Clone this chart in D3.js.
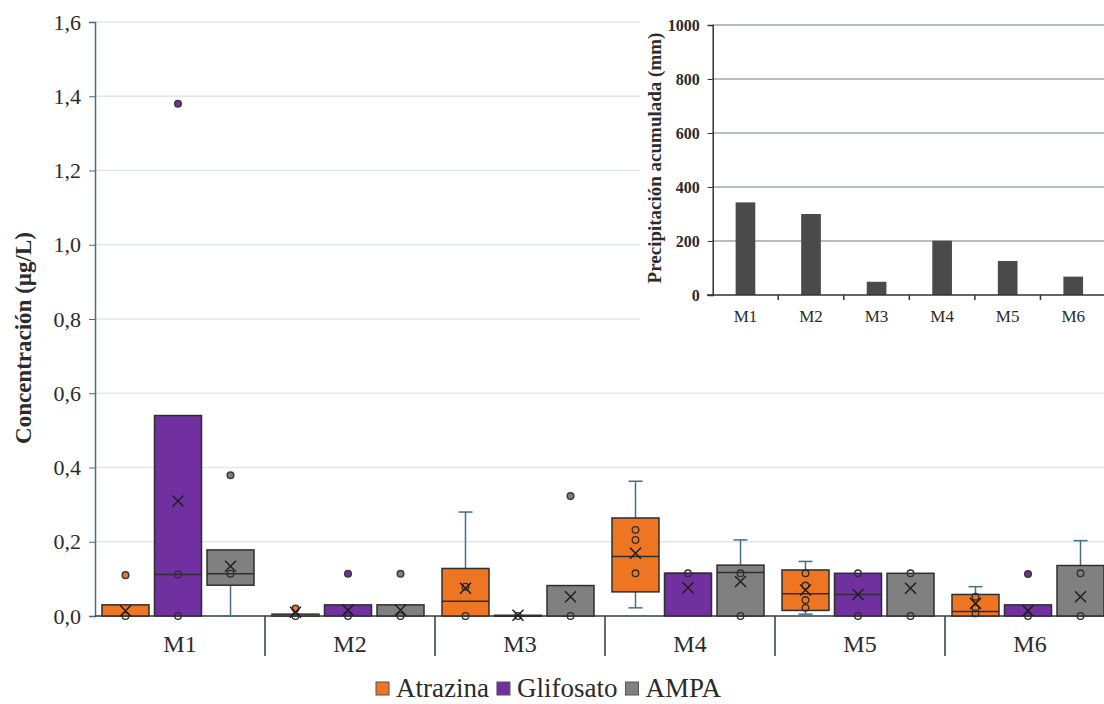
<!DOCTYPE html>
<html>
<head>
<meta charset="utf-8">
<script src="https://cdn.jsdelivr.net/npm/d3@7"></script>
<style>
  body { margin: 0; background: #fff; }
  svg { display: block; }
  text { font-family: "Liberation Serif", "DejaVu Serif", serif; fill: #2b2b2b; }
</style>
</head>
<body>
<svg id="chart" width="1104" height="704"></svg>
<script>
// --- datos ---
var categorias = ["M1", "M2", "M3", "M4", "M5", "M6"];
var series = ["Atrazina", "Glifosato", "AMPA"];
var colores = ["#ee7623", "#7030a0", "#808080"];

// box stats per muestreo: [min, q1, mediana, q3, max, media]
var atrazina = [
  [0, 0, 0, 0.03, 0.03, 0.014],
  [0, 0, 0, 0.005, 0.005, 0.01],
  [0, 0, 0.04, 0.128, 0.28, 0.075],
  [0.022, 0.065, 0.16, 0.264, 0.363, 0.169],
  [0.005, 0.015, 0.06, 0.124, 0.147, 0.07],
  [0, 0, 0.012, 0.058, 0.079, 0.034]
];
var glifosato = [
  [0, 0, 0.112, 0.54, 0.54, 0.31],
  [0, 0, 0, 0.03, 0.03, 0.016],
  [0, 0, 0, 0.002, 0.002, 0.002],
  [0, 0, 0.115, 0.115, 0.115, 0.076],
  [0, 0, 0.058, 0.115, 0.115, 0.058],
  [0, 0, 0, 0.03, 0.03, 0.014]
];
var ampa = [
  [0, 0.083, 0.114, 0.178, 0.178, 0.134],
  [0, 0, 0, 0.03, 0.03, 0.016],
  [0, 0, 0, 0.082, 0.082, 0.052],
  [0, 0, 0.117, 0.137, 0.205, 0.093],
  [0, 0, 0, 0.115, 0.115, 0.075],
  [0, 0, 0, 0.136, 0.203, 0.052]
];
// puntos internos
var puntosAtrazina = [[0], [0], [0, 0.079], [0.232, 0.205, 0.115], [0.115, 0.082, 0.043, 0.022], [0.052, 0.021, 0.007]];
var puntosGlifosato = [[0, 0.112], [0], [0], [0.115], [0, 0.115], [0]];
var puntosAmpa = [[0.114], [0], [0], [0, 0.115], [0, 0.115], [0, 0.115]];
// valores atipicos
var atipicosAtrazina = [[0.11], [0.02], [], [], [], []];
var atipicosGlifosato = [[1.38], [0.114], [], [], [], [0.113]];
var atipicosAmpa = [[0.379], [0.114], [0.323], [], [], []];

var yTicks = [0, 0.2, 0.4, 0.6, 0.8, 1.0, 1.2, 1.4, 1.6];

// grafico insertado
var precipitacion = [343, 300, 49, 201, 126, 68];
var precTicks = [0, 200, 400, 600, 800, 1000];

var stats = [atrazina, glifosato, ampa];
var puntos = [puntosAtrazina, puntosGlifosato, puntosAmpa];
var atipicos = [atipicosAtrazina, atipicosGlifosato, atipicosAmpa];

var svg = d3.select("#chart");
var coma = function(d){ return d3.format(".1f")(d).replace(".", ","); };

var y = d3.scaleLinear().domain([0, 1.6]).range([616, 22]);
var x = d3.scaleBand().domain(categorias).range([95, 1115]).padding(0);
var xs = d3.scaleBand().domain(series).range([7, 159]).paddingInner(0.105);

// grid
svg.append("g").selectAll("line")
  .data(yTicks.filter(function(d){ return d > 0; }))
  .enter().append("line")
  .attr("x1", 95).attr("x2", 1104)
  .attr("y1", function(d){ return y(d); }).attr("y2", function(d){ return y(d); })
  .attr("stroke", "#dfe7ec").attr("stroke-width", 1.5);

// eje y
var ejeY = svg.append("g")
  .attr("transform", "translate(95,0)")
  .call(d3.axisLeft(y).tickValues(yTicks).tickFormat(coma).tickSize(6).tickPadding(8));
ejeY.select(".domain").attr("stroke", "#456f86").attr("stroke-width", 1.5);
ejeY.selectAll(".tick line").attr("stroke", "#456f86");
ejeY.selectAll("text").attr("font-size", "22px").attr("font-family", "Liberation Serif").attr("fill", "#2b2b2b");

svg.append("text")
  .attr("transform", "translate(31,338) rotate(-90)")
  .attr("text-anchor", "middle")
  .attr("font-size", "23px").attr("font-weight", "bold")
  .text("Concentración (µg/L)");

// eje x
svg.append("line").attr("x1", 95).attr("x2", 1104).attr("y1", 616).attr("y2", 616)
  .attr("stroke", "#2d3b45").attr("stroke-width", 1.5);
svg.append("g").selectAll("line")
  .data(categorias.slice(1))
  .enter().append("line")
  .attr("x1", function(d){ return x(d); }).attr("x2", function(d){ return x(d); })
  .attr("y1", 616).attr("y2", 656)
  .attr("stroke", "#2d3b45").attr("stroke-width", 1.5);
svg.append("g").selectAll("text")
  .data(categorias)
  .enter().append("text")
  .attr("x", function(d){ return x(d) + x.bandwidth() / 2; })
  .attr("y", 652)
  .attr("text-anchor", "middle")
  .attr("font-size", "24px")
  .text(function(d){ return d; });

// cajas
var ejeColor = "#456f86";
series.forEach(function(s, si){
  var g = svg.append("g");
  categorias.forEach(function(c, ci){
    var st = stats[si][ci];
    var x0 = x(c) + xs(s), w = xs.bandwidth(), cx = x0 + w / 2;
    // bigotes
    if (st[4] > st[3]) {
      g.append("line").attr("x1", cx).attr("x2", cx).attr("y1", y(st[3])).attr("y2", y(st[4]))
        .attr("stroke", ejeColor).attr("stroke-width", 1.5);
      g.append("line").attr("x1", cx - 7).attr("x2", cx + 7).attr("y1", y(st[4])).attr("y2", y(st[4]))
        .attr("stroke", ejeColor).attr("stroke-width", 1.5);
    }
    if (st[0] < st[1]) {
      g.append("line").attr("x1", cx).attr("x2", cx).attr("y1", y(st[1])).attr("y2", y(st[0]))
        .attr("stroke", ejeColor).attr("stroke-width", 1.5);
      g.append("line").attr("x1", cx - 7).attr("x2", cx + 7).attr("y1", y(st[0])).attr("y2", y(st[0]))
        .attr("stroke", ejeColor).attr("stroke-width", 1.5);
    }
    g.append("rect")
      .attr("x", x0).attr("width", w)
      .attr("y", y(st[3])).attr("height", Math.max(y(st[1]) - y(st[3]), 1))
      .attr("fill", colores[si]).attr("stroke", "#2e2e2e").attr("stroke-width", 1.5);
    if (st[2] > st[1]) {
      g.append("line").attr("x1", x0).attr("x2", x0 + w).attr("y1", y(st[2])).attr("y2", y(st[2]))
        .attr("stroke", "#2e2e2e").attr("stroke-width", 1.5);
    }
    // puntos
    puntos[si][ci].forEach(function(p){
      g.append("circle").attr("cx", cx).attr("cy", y(p)).attr("r", 3.3)
        .attr("fill", "none").attr("stroke", "#2e2e2e").attr("stroke-width", 1.3);
    });
    atipicos[si][ci].forEach(function(p){
      g.append("circle").attr("cx", cx).attr("cy", y(p)).attr("r", 3.3)
        .attr("fill", colores[si]).attr("stroke", "#3a3a3a").attr("stroke-width", 1.5);
    });
    // media
    var my = y(st[5]);
    g.append("path")
      .attr("d", "M" + (cx - 5.5) + "," + (my - 5.5) + "L" + (cx + 5.5) + "," + (my + 5.5) +
                 "M" + (cx - 5.5) + "," + (my + 5.5) + "L" + (cx + 5.5) + "," + (my - 5.5))
      .attr("stroke", "#1e1e1e").attr("stroke-width", 1.5).attr("fill", "none");
  });
});

// leyenda
var ley = svg.append("g").attr("transform", "translate(376,697)");
var lx = 0;
series.forEach(function(s, i){
  ley.append("rect").attr("x", lx).attr("y", -15).attr("width", 13).attr("height", 13)
    .attr("fill", colores[i]).attr("stroke", "#555").attr("stroke-width", 1);
  var t = ley.append("text").attr("x", lx + 20).attr("y", 0).attr("font-size", "27px").text(s);
  lx += 20 + t.node().getComputedTextLength() + 8;
});

// grafico insertado: precipitacion
svg.append("rect").attr("x", 640).attr("y", 6).attr("width", 464).attr("height", 326).attr("fill", "#fff");
var yi = d3.scaleLinear().domain([0, 1000]).range([295, 25]);
var xi = d3.scaleBand().domain(categorias).range([712.7, 1106]).paddingInner(0.7).paddingOuter(0.35);

svg.append("g").selectAll("line")
  .data(precTicks.filter(function(d){ return d > 0; }))
  .enter().append("line")
  .attr("x1", 712).attr("x2", 1104)
  .attr("y1", function(d){ return yi(d); }).attr("y2", function(d){ return yi(d); })
  .attr("stroke", "#6f7f8a").attr("stroke-width", 1.2);

svg.append("g").selectAll("rect")
  .data(precipitacion)
  .enter().append("rect")
  .attr("x", function(d, i){ return xi(categorias[i]); })
  .attr("width", xi.bandwidth())
  .attr("y", function(d){ return yi(d); })
  .attr("height", function(d){ return yi(0) - yi(d); })
  .attr("fill", "#4a4a4a");

var ejeYi = svg.append("g")
  .attr("transform", "translate(712.7,0)")
  .call(d3.axisLeft(yi).tickValues(precTicks).tickFormat(d3.format("d")).tickSize(5).tickPadding(8));
ejeYi.select(".domain").attr("stroke", "#333").attr("stroke-width", 1.5);
ejeYi.selectAll(".tick line").attr("stroke", "#333");
ejeYi.selectAll("text").attr("font-size", "16px").attr("font-weight", "bold")
  .attr("font-family", "Liberation Serif").attr("fill", "#2b2b2b");

svg.append("line").attr("x1", 707).attr("x2", 1104).attr("y1", 295).attr("y2", 295)
  .attr("stroke", "#333").attr("stroke-width", 1.5);
svg.append("g").selectAll("line")
  .data(categorias.slice(1))
  .enter().append("line")
  .attr("x1", function(d){ return xi(d) - xi.step() * xi.paddingInner() / 2; })
  .attr("x2", function(d){ return xi(d) - xi.step() * xi.paddingInner() / 2; })
  .attr("y1", 295).attr("y2", 300)
  .attr("stroke", "#333").attr("stroke-width", 1.5);
svg.append("g").selectAll("text")
  .data(categorias)
  .enter().append("text")
  .attr("x", function(d){ return xi(d) + xi.bandwidth() / 2; })
  .attr("y", 322)
  .attr("text-anchor", "middle")
  .attr("font-size", "17px")
  .text(function(d){ return d; });

svg.append("text")
  .attr("transform", "translate(661,158) rotate(-90)")
  .attr("text-anchor", "middle")
  .attr("font-size", "19px").attr("font-weight", "bold")
  .text("Precipitación acumulada (mm)");
</script>
</body>
</html>
